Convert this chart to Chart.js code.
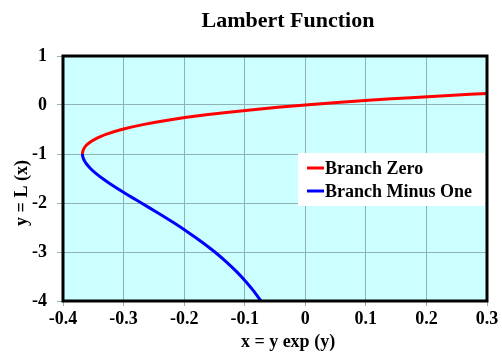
<!DOCTYPE html>
<html>
<head>
<meta charset="utf-8">
<script src="https://cdn.jsdelivr.net/npm/chart.js@4"></script>
<style>
  html, body { margin: 0; padding: 0; background: #ffffff; }
  #wrap { width: 502px; height: 352px; }
</style>
</head>
<body>
<div id="wrap"><canvas id="lambertChart" width="502" height="352"></canvas></div>
<script>
// Lambert W, sampled as (x, y) pairs with x = y * exp(y)
var branchZeroY = [-1, -0.98, -0.95, -0.9, -0.85, -0.8, -0.75, -0.7, -0.6, -0.5, -0.4, -0.3, -0.2, -0.1, 0, 0.05, 0.1, 0.15, 0.2, 0.23675];
var branchZeroX = [-0.367879, -0.367805, -0.367404, -0.365913, -0.363303, -0.359463, -0.354275, -0.347610, -0.329287, -0.303265, -0.268128, -0.222245, -0.163746, -0.090484, 0, 0.052564, 0.110517, 0.174275, 0.244281, 0.29999];

var branchMinusOneY = [-1, -1.02, -1.05, -1.1, -1.15, -1.2, -1.3, -1.4, -1.5, -1.6, -1.8, -2.0, -2.2, -2.4, -2.6, -2.8, -3.0, -3.2, -3.4, -3.6, -3.8, -4.0];
var branchMinusOneX = [-0.367879, -0.367806, -0.367435, -0.366158, -0.364132, -0.361433, -0.354292, -0.345236, -0.334695, -0.323034, -0.297538, -0.270671, -0.243767, -0.217723, -0.193111, -0.170268, -0.149361, -0.130439, -0.113469, -0.098365, -0.085009, -0.073263];

var seriesNames = ['Branch Zero', 'Branch Minus One'];
var xTicks = [-0.4, -0.3, -0.2, -0.1, 0, 0.1, 0.2, 0.3];
var yTicks = [-4, -3, -2, -1, 0, 1];

function toPoints(xs, ys) {
  var pts = [];
  for (var i = 0; i < xs.length; i++) {
    pts.push({ x: xs[i], y: ys[i] });
  }
  return pts;
}

var serif = '"Liberation Serif", "Times New Roman", serif';

// background, frame, titles and the boxed legend
var decorations = {
  id: 'decorations',
  beforeDraw: function(chart) {
    var a = chart.chartArea;
    var c = chart.ctx;
    c.save();
    c.fillStyle = '#ccffff';
    c.fillRect(a.left, a.top, a.right - a.left, a.bottom - a.top);
    c.restore();
  },
  afterDraw: function(chart) {
    var a = chart.chartArea;
    var c = chart.ctx;
    c.save();
    // frame
    c.strokeStyle = '#000000';
    c.lineWidth = 3;
    c.strokeRect(a.left, a.top, a.right - a.left, a.bottom - a.top);

    var midX = (a.left + a.right) / 2 + 13;
    c.fillStyle = '#000000';
    c.textAlign = 'center';
    c.textBaseline = 'middle';
    c.font = 'bold 22px ' + serif;
    c.fillText('Lambert Function', midX, 21);

    c.font = 'bold 18px ' + serif;
    c.fillText('x = y exp (y)', midX, 342);

    c.save();
    c.translate(22, 193);
    c.rotate(-Math.PI / 2);
    c.fillText('y = L (x)', 0, 0);
    c.restore();

    // legend
    var lx = 298, ly = 153, lw = 187, lh = 53;
    c.fillStyle = '#ffffff';
    c.fillRect(lx, ly, lw, lh);
    c.textAlign = 'left';
    c.font = 'bold 18px ' + serif;
    chart.data.datasets.forEach(function(ds, i) {
      var yy = ly + 15 + i * 23;
      c.strokeStyle = ds.borderColor;
      c.lineWidth = 3;
      c.beginPath();
      c.moveTo(lx + 9, yy);
      c.lineTo(lx + 26, yy);
      c.stroke();
      c.fillStyle = '#000000';
      c.fillText(ds.label, lx + 27, yy + 1);
    });
    c.restore();
  }
};

var ctx = document.getElementById('lambertChart').getContext('2d');
var lambertChart = new Chart(ctx, {
  type: 'scatter',
  data: {
    datasets: [{
      label: seriesNames[0],
      data: toPoints(branchZeroX, branchZeroY),
      showLine: true,
      borderColor: '#ff0000',
      borderWidth: 3,
      pointRadius: 0,
      tension: 0.3
    }, {
      label: seriesNames[1],
      data: toPoints(branchMinusOneX, branchMinusOneY),
      showLine: true,
      borderColor: '#0000ff',
      borderWidth: 3,
      pointRadius: 0,
      tension: 0.3
    }]
  },
  options: {
    responsive: false,
    animation: false,
    layout: { padding: { top: 56, right: 15, left: 0, bottom: 0 } },
    plugins: {
      legend: { display: false },
      title: { display: false },
      tooltip: { enabled: false }
    },
    scales: {
      x: {
        type: 'linear',
        min: -0.4,
        max: 0.3,
        afterBuildTicks: function(scale) {
          scale.ticks = xTicks.map(function(v) { return { value: v }; });
        },
        afterFit: function(scale) { scale.height = 51; },
        grid: { color: '#8fb3b3', lineWidth: 1, tickLength: 5, drawOnChartArea: true },
        border: { display: false },
        ticks: {
          color: '#000000',
          padding: 3,
          font: { family: serif, size: 18, weight: 'bold' },
          callback: function(v) { return Number(v.toFixed(1)).toString(); }
        }
      },
      y: {
        type: 'linear',
        min: -4,
        max: 1,
        afterBuildTicks: function(scale) {
          scale.ticks = yTicks.map(function(v) { return { value: v }; });
        },
        afterFit: function(scale) { scale.width = 63; },
        grid: { color: '#8fb3b3', lineWidth: 1, tickLength: 6 },
        border: { display: false },
        ticks: {
          color: '#000000',
          padding: 10,
          font: { family: serif, size: 18, weight: 'bold' },
          callback: function(v) { return String(v); }
        }
      }
    }
  },
  plugins: [decorations]
});
</script>
</body>
</html>
